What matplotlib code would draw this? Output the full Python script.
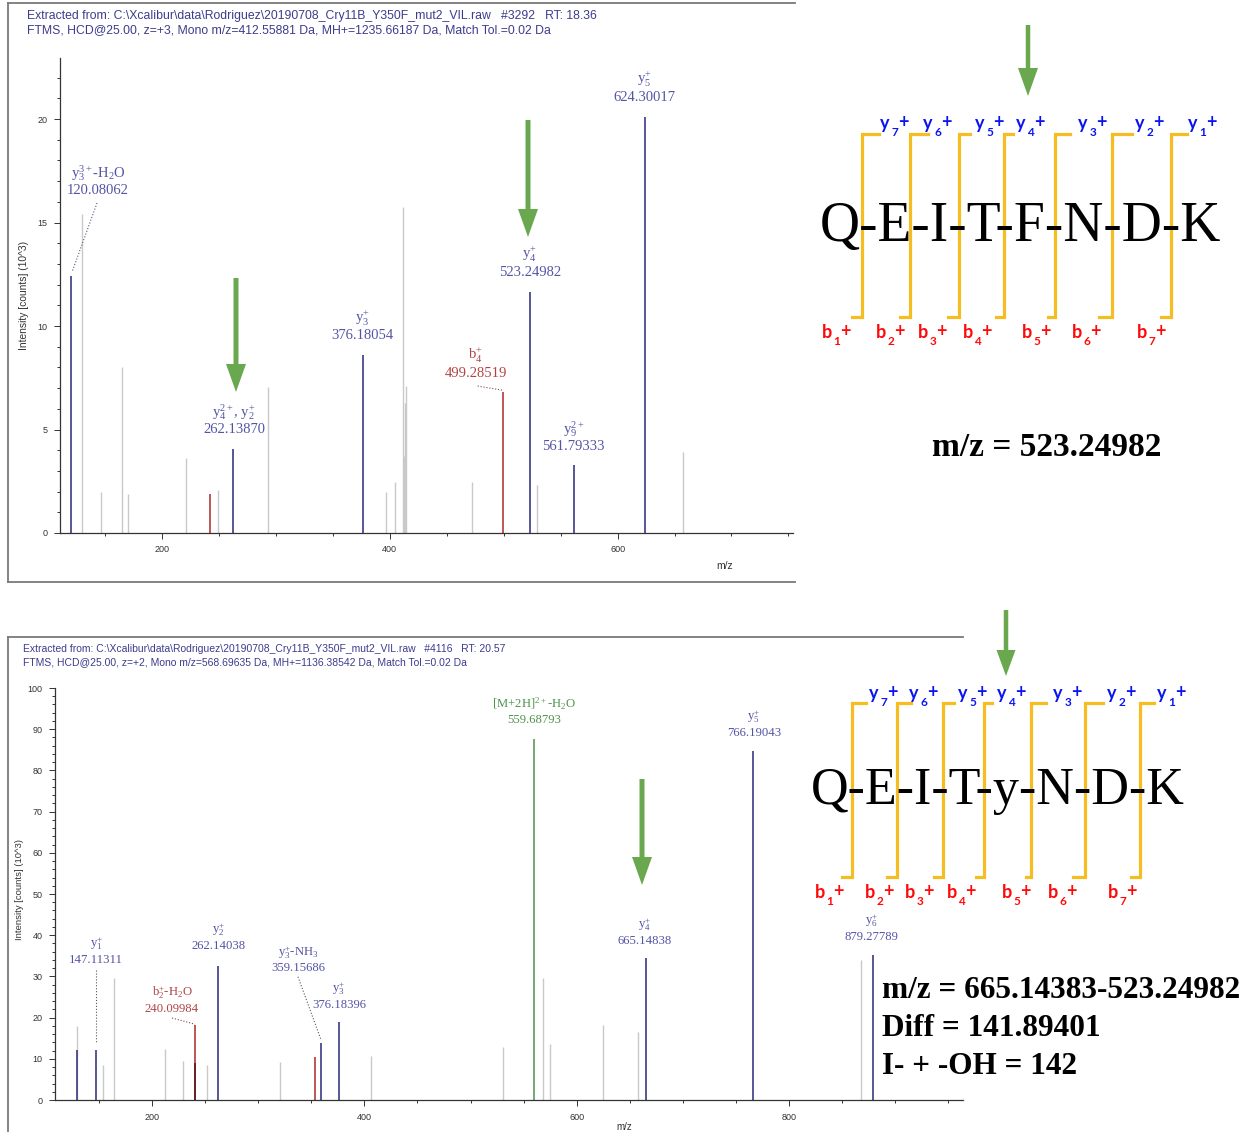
import matplotlib
matplotlib.use('Agg')
import matplotlib.pyplot as plt
from matplotlib.patches import FancyArrow

plt.rcParams['mathtext.fontset'] = 'custom'
plt.rcParams['mathtext.rm'] = 'Liberation Serif'
plt.rcParams['mathtext.it'] = 'Liberation Serif:italic'
plt.rcParams['mathtext.bf'] = 'Liberation Serif:bold'

W, H = 1247, 1132

# ---- top spectrum, scan #3292 (intensity in 10^3 counts)
top_grey_mz = [129.8, 146.5, 165.0, 170.0, 221.0, 249.0, 293.0, 397.0, 405.0,
               411.4, 412.3, 413.2, 414.0, 472.0, 529.0, 657.0]
top_grey_int = [15.4, 2.0, 8.0, 1.9, 3.6, 2.1, 7.05, 2.0, 2.45,
                15.75, 3.7, 6.3, 7.1, 2.45, 2.3, 3.9]
top_blue_mz = [120.08062, 262.13870, 376.18054, 523.24982, 561.79333, 624.30017]
top_blue_int = [12.4, 4.05, 8.6, 11.65, 3.3, 20.1]
top_red_mz = [242.0, 499.28519]
top_red_int = [1.9, 6.8]

top_label_names = [r'y$_3^{3+}$-H$_2$O', r'y$_4^{2+}$, y$_2^{+}$', r'y$_3^{+}$',
                   r'b$_4^{+}$', r'y$_4^{+}$', r'y$_9^{2+}$', r'y$_5^{+}$']
top_label_values = ['120.08062', '262.13870', '376.18054', '499.28519',
                    '523.24982', '561.79333', '624.30017']
top_label_colors = ['blue', 'blue', 'blue', 'red', 'blue', 'blue', 'blue']
top_label_x = [143.9, 263.2, 376.3, 475.4, 522.8, 561.4, 623.7]
top_label_y = [16.57, 4.98, 9.52, 7.73, 12.61, 4.2, 21.06]

# ---- bottom spectrum, scan #4116
bot_grey_mz = [129.5, 153.5, 164.4, 212.3, 229.6, 252.2, 320.8, 406.3,
               530.5, 568.2, 574.8, 624.5, 657.8, 868.0]
bot_grey_int = [17.9, 8.4, 29.7, 12.3, 9.5, 8.4, 9.2, 10.7,
                12.8, 29.7, 13.7, 18.3, 16.5, 33.9]
bot_blue_mz = [129.1, 147.11311, 262.14038, 359.15686, 376.18396,
               665.14838, 766.19043, 879.27789]
bot_blue_int = [12.2, 12.2, 32.5, 13.8, 19.0, 34.5, 84.6, 35.3]
bot_red_mz = [240.09984, 353.1]
bot_red_int = [18.1, 10.4]
bot_dark_mz = [240.3]
bot_dark_int = [8.9]
bot_green_mz = [559.68793]
bot_green_int = [87.7]

bot_label_names = [r'y$_1^{+}$', r'b$_2^{+}$-H$_2$O', r'y$_2^{+}$', r'y$_3^{+}$-NH$_3$',
                   r'y$_3^{+}$', r'[M+2H]$^{2+}$-H$_2$O', r'y$_4^{+}$', r'y$_5^{+}$',
                   r'y$_6^{+}$']
bot_label_values = ['147.11311', '240.09984', '262.14038', '359.15686', '376.18396',
                    '559.68793', '665.14838', '766.19043', '879.27789']
bot_label_colors = ['blue', 'red', 'blue', 'blue', 'blue', 'green', 'blue', 'blue', 'blue']
bot_label_x = [147.3, 218.8, 262.2, 337.5, 376.1, 559.8, 664.4, 767.0, 878.1]
bot_label_y = [34.0, 22.1, 37.4, 32.0, 23.1, 92.2, 38.6, 89.1, 39.6]

sequence_top = 'Q-E-I-T-F-N-D-K'
sequence_bot = 'Q-E-I-T-y-N-D-K'
eq_top = ['m/z = 523.24982']
eq_bot = ['m/z = 665.14383-523.24982', 'Diff = 141.89401', 'I- + -OH = 142']

line_col = {'grey': '#c9c9c9', 'blue': '#3a3a86', 'red': '#b23a3a',
            'green': '#5b9b5b', 'dark': '#5a1a1a'}
text_col = {'blue': '#5454a6', 'red': '#b04444', 'green': '#4d944d'}
head_col = '#3c3c8c'
arrow_col = '#6aa84f'
gold = '#f5bd22'


def px_axes(x0, y0, x1, y1):
    return fig.add_axes([x0 / W, 1 - y1 / H, (x1 - x0) / W, (y1 - y0) / H])


def style_spectrum(ax, xmajor, ymajor, ymin_step, xmin_step, ylim, xlim):
    ax.set_xlim(*xlim)
    ax.set_ylim(*ylim)
    for s in ['top', 'right']:
        ax.spines[s].set_visible(False)
    for s in ['left', 'bottom']:
        ax.spines[s].set_color('#333333')
        ax.spines[s].set_linewidth(0.9)
    ax.set_xticks(xmajor)
    ax.set_yticks(ymajor)
    ax.xaxis.set_minor_locator(matplotlib.ticker.MultipleLocator(xmin_step))
    ax.yaxis.set_minor_locator(matplotlib.ticker.MultipleLocator(ymin_step))
    ax.tick_params(which='both', direction='out', color='#333333', labelsize=6.5,
                   labelcolor='#333333', width=0.7)
    ax.tick_params(which='major', length=4, pad=5)
    ax.tick_params(which='minor', length=2.5)
    for t in ax.get_xticklabels() + ax.get_yticklabels():
        t.set_family('Liberation Sans')
    ax.patch.set_alpha(0)


def peak_labels(ax, names, values, colors, xs, ys, fs, gap):
    for n, v, c, x, y in zip(names, values, colors, xs, ys):
        ax.text(x, y, v, ha='center', va='center', color=text_col[c],
                family='Liberation Serif', fontsize=fs)
        ax.annotate(n, xy=(x, y), xytext=(0, gap), textcoords='offset points',
                    ha='center', va='center', color=text_col[c],
                    family='Liberation Serif', fontsize=fs)


fig = plt.figure(figsize=(W / 100, H / 100), dpi=100)

# ---------- top spectrum
ax1 = px_axes(60, 58, 793, 533)
ax1.vlines(top_grey_mz, 0, top_grey_int, color=line_col['grey'], lw=1.0)
ax1.vlines(top_red_mz, 0, top_red_int, color=line_col['red'], lw=1.2)
ax1.vlines(top_blue_mz, 0, top_blue_int, color=line_col['blue'], lw=1.2)
style_spectrum(ax1, [200, 400, 600], [0, 5, 10, 15, 20], 1, 50, (0, 22.95), (110.5, 754))
peak_labels(ax1, top_label_names, top_label_values, top_label_colors,
            top_label_x, top_label_y, 10.5, 12.5)
ax1.plot([143, 121], [15.94, 12.6], ls=':', color='#555577', lw=0.8)
ax1.plot([477.2, 499.1], [7.1, 6.9], ls=':', color='#884444', lw=0.8)

# ---------- bottom spectrum
ax2 = px_axes(55, 688, 963, 1100)
ax2.vlines(bot_grey_mz, 0, bot_grey_int, color=line_col['grey'], lw=1.0)
ax2.vlines(bot_red_mz, 0, bot_red_int, color=line_col['red'], lw=1.2)
ax2.vlines(bot_dark_mz, 0, bot_dark_int, color=line_col['dark'], lw=1.2)
ax2.vlines(bot_green_mz, 0, bot_green_int, color=line_col['green'], lw=1.2)
ax2.vlines(bot_blue_mz, 0, bot_blue_int, color=line_col['blue'], lw=1.2)
style_spectrum(ax2, [200, 400, 600, 800], list(range(0, 101, 10)), 2, 50, (0, 100), (108.6, 963.9))
peak_labels(ax2, bot_label_names, bot_label_values, bot_label_colors,
            bot_label_x, bot_label_y, 9.2, 11.5)
ax2.plot([147.1, 147.1], [31.5, 14], ls=':', color='#555555', lw=0.8)
ax2.plot([218.8, 240.5], [19.9, 18.4], ls=':', color='#884444', lw=0.8)
ax2.plot([337.5, 359.2], [29.9, 14.6], ls=':', color='#555555', lw=0.8)

# ---------- overlay in pixel coordinates
ov = fig.add_axes([0, 0, 1, 1])
ov.set_xlim(0, W)
ov.set_ylim(H, 0)
ov.axis('off')
ov.patch.set_alpha(0)

# panel frames
box = dict(color='#7a7a7a', lw=1.3)
ov.plot([8, 795], [3, 3], **box)
ov.plot([8, 8], [3, 582], **box)
ov.plot([8, 795], [582, 582], **box)
ov.plot([8, 963], [637, 637], **box)
ov.plot([8, 8], [637, 1132], **box)

# headers
hdr = dict(color=head_col, family='Liberation Sans', ha='left', va='center')
ov.text(27, 16, r'Extracted from: C:\Xcalibur\data\Rodriguez\20190708_Cry11B_Y350F_mut2_VIL.raw   #3292   RT: 18.36',
        fontsize=8.8, **hdr)
ov.text(27, 30, 'FTMS, HCD@25.00, z=+3, Mono m/z=412.55881 Da, MH+=1235.66187 Da, Match Tol.=0.02 Da',
        fontsize=8.8, **hdr)
ov.text(23, 649, r'Extracted from: C:\Xcalibur\data\Rodriguez\20190708_Cry11B_Y350F_mut2_VIL.raw   #4116   RT: 20.57',
        fontsize=7.45, **hdr)
ov.text(23, 662, 'FTMS, HCD@25.00, z=+2, Mono m/z=568.69635 Da, MH+=1136.38542 Da, Match Tol.=0.02 Da',
        fontsize=7.45, **hdr)

axl = dict(color='#333333', family='Liberation Sans', ha='center', va='center')
ov.text(24, 295, 'Intensity [counts] (10^3)', rotation=90, fontsize=7.4, **axl)
ov.text(20, 890, 'Intensity [counts] (10^3)', rotation=90, fontsize=6.8, **axl)
ov.text(725, 566, 'm/z', fontsize=7.4, **axl)
ov.text(624, 1127, 'm/z', fontsize=7, **axl)


def arrow(x, y0, y1, hw=20, hl=28, w=5):
    ov.add_patch(FancyArrow(x, y0, 0, y1 - y0, width=w, head_width=hw, head_length=hl,
                            length_includes_head=True, color=arrow_col, lw=0))


arrow(236, 278, 392)
arrow(528, 120, 237)
arrow(642, 779, 885)
arrow(1028, 25, 96, hw=20, hl=28, w=4.5)
arrow(1006, 610, 676, hw=19, hl=26, w=4.5)


def ion(x, base, letter, num, color):
    kw = dict(color=color, family='Lato', fontweight='bold', ha='left', va='baseline')
    ov.text(x, base, letter, fontsize=13, **kw)
    ov.text(x + 11.5, base + 7, num, fontsize=8.5, **kw)
    ov.text(x + 18, base - 1, '+', fontsize=13, **kw)


def diagram(seq, cx, base, fs, vx, y_top, y_bot, top_ext, bot_ext, ylx, yl_base, blx, bl_base):
    ov.text(cx, base, seq, family='Liberation Serif', fontsize=fs, color='black',
            ha='center', va='baseline')
    for x, te, be in zip(vx, top_ext, bot_ext):
        ov.plot([x + te, x, x, x - be], [y_top, y_top, y_bot, y_bot], color=gold, lw=2.3,
                solid_joinstyle='miter')
    for i, x in enumerate(ylx):
        ion(x, yl_base, 'y', str(7 - i), '#0a14f0')
    for i, x in enumerate(blx):
        ion(x, bl_base, 'b', str(i + 1), '#ff0a0a')


diagram(sequence_top, 1020, 241, 40,
        [861.7, 910, 959, 1004, 1055, 1111.7, 1171], 134, 317,
        [17, 18, 11, 9, 15, 20, 16], [10, 10, 11, 8, 7, 13, 10],
        [880, 923, 975, 1016, 1078, 1135, 1188], 129,
        [822, 876, 918, 963, 1022, 1072, 1137], 338)

diagram(sequence_bot, 998, 804, 37.5,
        [852.3, 897.3, 942.7, 984.3, 1031, 1085, 1140], 703, 877,
        [14, 14, 11, 8, 15, 18, 14], [10, 10, 9, 8, 5, 12, 9],
        [869, 909, 958, 997, 1053, 1107, 1157], 699,
        [815, 865, 905, 947, 1002, 1048, 1108], 898)

eqkw = dict(family='Liberation Serif', fontweight='bold', color='black', ha='left', va='baseline')
ov.text(932, 456, eq_top[0], fontsize=24, **eqkw)
for i, s in enumerate(eq_bot):
    ov.text(882, 998 + 38 * i, s, fontsize=22.5, **eqkw)

fig.savefig('out.png', dpi=100)
